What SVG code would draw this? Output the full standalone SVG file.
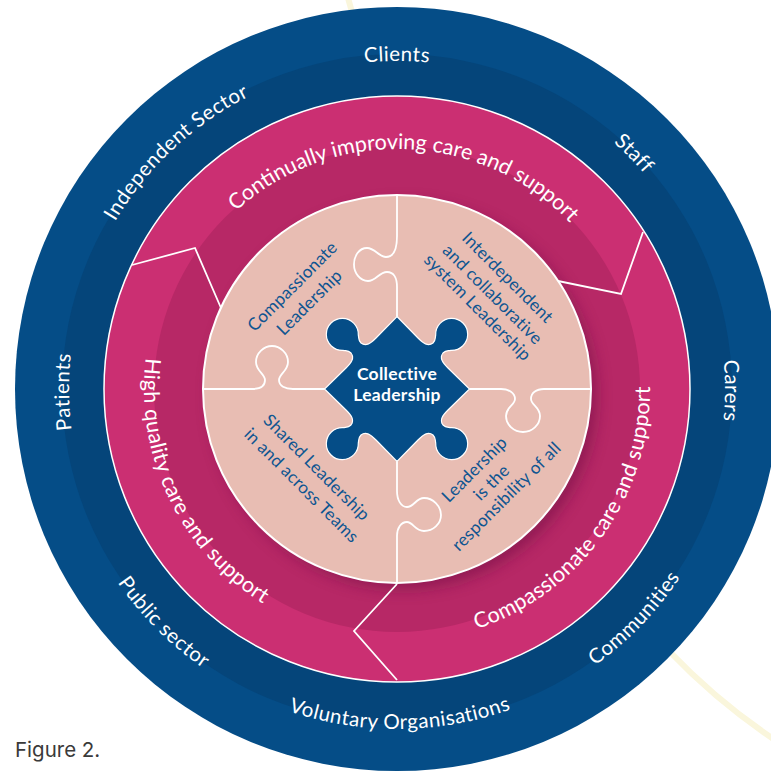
<svg xmlns="http://www.w3.org/2000/svg" width="771" height="771" viewBox="0 0 771 771">
<style>
text{font-family:"Lato","Noto Sans",sans-serif}
.o{fill:#fff;font-size:20.5px;letter-spacing:.5px}
.p{fill:#fff;font-size:21.5px}
.w{letter-spacing:.35px}
.i{fill:#0f5591;font-size:17.2px;letter-spacing:.25px;text-anchor:middle}
.c{fill:#fff;font-size:17.5px;font-weight:700;letter-spacing:.3px;text-anchor:middle}
.l{fill:none;stroke:#fff;stroke-width:1.8}
</style>
<defs>
<path id="ot" d="M397,717 A328,328 0 1 1 397,61 A328,328 0 1 1 397,717"/>
<path id="ob" d="M397,49 A340,340 0 1 0 397,729 A340,340 0 1 0 397,49"/>
<path id="pt" d="M397,629 A240,240 0 1 1 397,149 A240,240 0 1 1 397,629"/>
<path id="pb" d="M397,136 A253,253 0 1 0 397,642 A253,253 0 1 0 397,136"/>
<filter id="sh" x="-20%" y="-20%" width="140%" height="140%"><feGaussianBlur stdDeviation="8"/></filter>
<clipPath id="cp"><circle cx="397" cy="389" r="243"/></clipPath>
</defs>
<g id="background-curves" fill="none" stroke="#faf6dc" stroke-width="6">
<path d="M348,-2 L352,12"/>
<path d="M670,652 Q718,702 775,740"/>
</g>
<g id="outer-ring">
<circle cx="397" cy="389" r="382" fill="#054d87"/>
<circle cx="397" cy="389" r="335" fill="#05457a"/>
<text class="o"><textPath href="#ot" startOffset="50%" text-anchor="middle">Clients</textPath></text>
<text class="o" transform="rotate(45.2 397 389)"><textPath href="#ot" startOffset="50%" text-anchor="middle">Staff</textPath></text>
<text class="o" transform="rotate(90.3 397 389)"><textPath href="#ot" startOffset="50%" text-anchor="middle">Carers</textPath></text>
<text class="o" transform="rotate(-90.5 397 389)"><textPath href="#ot" startOffset="50%" text-anchor="middle">Patients</textPath></text>
<text class="o" transform="rotate(-43 397 389)"><textPath href="#ot" startOffset="50%" text-anchor="middle">Independent Sector</textPath></text>
<text class="o" transform="rotate(-46 397 389)"><textPath href="#ob" startOffset="50%" text-anchor="middle">Communities</textPath></text>
<text class="o" transform="rotate(-.5 397 389)"><textPath href="#ob" startOffset="50%" text-anchor="middle">Voluntary Organisations</textPath></text>
<text class="o" transform="rotate(45 397 389)"><textPath href="#ob" startOffset="50%" text-anchor="middle">Public sector</textPath></text>
</g>
<g id="care-ring">
<circle cx="397" cy="389" r="293" fill="#cb2f72" stroke="#fff" stroke-width="1.5"/>
<circle cx="397" cy="389" r="243" fill="#b72866"/>
<circle cx="404" cy="396" r="192" fill="#7a1548" opacity=".7" filter="url(#sh)" clip-path="url(#cp)"/>
<text class="p" transform="rotate(2 397 389)"><textPath href="#pt" startOffset="50%" text-anchor="middle">Continually improving care and support</textPath></text>
<text class="p w" transform="rotate(64.5 397 389)"><textPath href="#pb" startOffset="50%" text-anchor="middle">High quality care and support</textPath></text>
<text class="p w" transform="rotate(-54.5 397 389)"><textPath href="#pb" startOffset="50%" text-anchor="middle">Compassionate care and support</textPath></text>
</g>
<g id="connectors">
<path class="l" d="M132,265 L195,248 L221,308"/>
<path class="l" d="M643,232 L621,294 L558,281"/>
<path class="l" d="M397,680 L354,631 L397,584"/>
</g>
<g id="puzzle">
<circle cx="397" cy="389" r="194" fill="#e8bdb3" stroke="#fff" stroke-width="2"/>
<g transform="translate(397 389)">
<path class="l" d="M0,-194 V-153 C0,-139 -4,-132 -11,-132 C-18,-132 -22,-141 -30,-141 C-38,-141 -43,-133 -43,-124.5 C-43,-116 -37,-108 -29,-108 C-21,-108 -18,-117 -10,-117 C-3,-117 0,-111 0,-102 V-72"/>
<path class="l" d="M-194,0 H-145 C-137,0 -132,-3 -132,-9 C-132,-15 -141,-18 -141,-27 C-141,-36 -133,-43 -125,-43 C-117,-43 -109,-36 -109,-27 C-109,-18 -118,-15 -118,-9 C-118,-3 -112,0 -104,0 H-72"/>
<path class="l" d="M72,0 H104 C112,0 118,4 118,10 C118,16 109,18 109,27 C109,36 117,43 126,43 C135,43 143,36 143,27 C143,18 134,16 134,10 C134,4 139,0 147,0 H194"/>
<path class="l" d="M0,72 V102 C0,111 4,118 10,118 C17,118 19,109 27,109 C36,109 44,117 44,126 C44,135 36,142 27,142 C18,142 16,133 10,133 C4,133 0,139 0,147 V194"/>
</g>
<text class="i" transform="translate(293 287) rotate(-45)" y="5">Compassionate</text>
<text class="i" transform="translate(310 303) rotate(-45)" y="5">Leadership</text>
<text class="i" transform="translate(507 278) rotate(45)" y="5">Interdependent</text>
<text class="i" transform="translate(492 295) rotate(45)" y="5">and collaborative</text>
<text class="i" transform="translate(477 308) rotate(45)" y="5">system Leadership</text>
<text class="i" transform="translate(316 468) rotate(45)" y="5">Shared Leadership</text>
<text class="i" transform="translate(301 486) rotate(45)" y="5">in and across Teams</text>
<text class="i" transform="translate(475 470) rotate(-45)" y="5">Leadership</text>
<text class="i" transform="translate(492 483) rotate(-45)" y="5">is the</text>
<text class="i" transform="translate(507 497) rotate(-45)" y="5">responsibility of all</text>
</g>
<g id="centre">
<path transform="translate(397 389)" fill="#054d87" stroke="#fff" stroke-width="1.2" d="M0,-72.5 L21,-51 C26,-46 31,-42 36,-46 C39,-49 38,-51 38.7,-54 A16 16 0 1 1 54,-38.7 C51,-38 49,-39 46,-36 C42,-31 46,-26 51,-21 L72.5,0 L51,21 C46,26 42,31 46,36 C49,39 51,38 54,38.7 A16 16 0 1 1 38.7,54 C38,51 39,49 36,46 C31,42 26,46 21,51 L0,72.5 L-21,51 C-26,46 -31,42 -36,46 C-39,49 -38,51 -38.7,54 A16 16 0 1 1 -54,38.7 C-51,38 -49,39 -46,36 C-42,31 -46,26 -51,21 L-72.5,0 L-51,-21 C-46,-26 -42,-31 -46,-36 C-49,-39 -51,-38 -54,-38.7 A16 16 0 1 1 -38.7,-54 C-38,-51 -39,-49 -36,-46 C-31,-42 -26,-46 -21,-51 Z"/>
<text class="c" x="397" y="380">Collective</text>
<text class="c" x="397" y="401">Leadership</text>
</g>
<text id="caption" x="15" y="757" fill="#3a3a3a" font-size="20.5" style="font-family:'Inter','Lato',sans-serif">Figure 2.</text>
</svg>
